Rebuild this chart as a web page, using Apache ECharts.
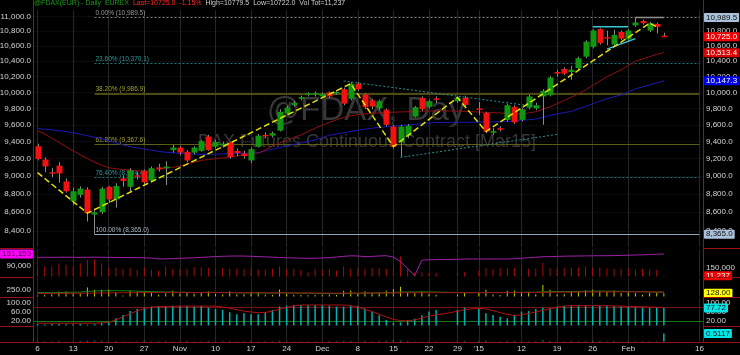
<!DOCTYPE html>
<html><head><meta charset="utf-8">
<script src="https://cdn.jsdelivr.net/npm/echarts@6/dist/echarts.min.js"></script>
<style>html,body{margin:0;padding:0;background:#000;}#c{width:740px;height:355px;}</style>
</head><body><div id="c"></div>
<script>
// ---------------- DATA ----------------
const dates = ['10-06','10-07','10-08','10-09','10-10','10-13','10-14','10-15','10-16','10-17','10-20','10-21','10-22','10-23','10-24','10-27','10-28','10-29','10-30','10-31',
'11-03','11-04','11-05','11-06','11-07','11-10','11-11','11-12','11-13','11-14','11-17','11-18','11-19','11-20','11-21','11-24','11-25','11-26','11-27','11-28',
'12-01','12-02','12-03','12-04','12-05','12-08','12-09','12-10','12-11','12-12','12-15','12-16','12-17','12-18','12-19','12-22','12-23','12-24','12-26','12-29','12-30','12-31',
'01-02','01-05','01-06','01-07','01-08','01-09','01-12','01-13','01-14','01-15','01-16','01-19','01-20','01-21','01-22','01-23','01-26','01-27','01-28','01-29','01-30',
'02-02','02-03','02-04','02-05','02-06','02-09','02-10','02-11','02-12','02-13','02-16'];
const tickLabels = {'10-06':'6','10-13':'13','10-20':'20','10-27':'27','11-03':'Nov','11-10':'10','11-17':'17','11-24':'24','12-01':'Dec','12-08':'8','12-15':'15','12-22':'22','12-29':'29','01-02':"'15",'01-12':'12','01-19':'19','01-26':'26','02-02':'Feb','02-16':'16'};

const open  = [9345,9190,9045,9120,8940,8720,8790,8850,8575,8600, 8880,8740,8975,8880,9010,9060,8950,9100,9090,9300, 9330,9280,9270,9290,9460,9340,9355,9390,9290,9260, 9180,9340,9480,9470,9530,9740,9840,9920,9970,9990, 9950,10000,9990,10040,9920,10110,9975,9900,9800,9785, 9580,9390,9470,9700,9930,9820,9925,null,null,9890, 9930,null,9800,9745,9505,9560,9660,9820,9660,9810, 9800,9950,9965,10260,10300,10260,10310,10460,10590,10830, 10720,10620,10790,10690,10880,10940,10810,10900,10740];
const high  = [9375,9215,9095,9160,8975,8870,8885,8875,8640,8880, 8890,8920,9010,9090,9050,9075,9110,9140,9170,9360, 9350,9300,9345,9420,9480,9420,9400,9400,9320,9290, 9330,9490,9510,9520,9790,9830,9890,9960,10000,10010, 10000,10010,10030,10060,10130,10130,9990,9920,9910,9800, 9600,9600,9610,9830,9950,9910,9950,null,null,9950, 9960,null,9880,9760,9560,9580,9860,9840,9810,9970, 9870,10040,10210,10290,10320,10340,10460,10680,10830,10840, 10810,10820,10810,10830,10989.5,10960,10930,10920,10779.5];
const low   = [9180,9045,8985,8925,8815,8680,8760,8500,8365,8580, 8700,8650,8880,8830,8960,8890,8930,9050,8900,9270, 9240,9160,9250,9280,9290,9320,9330,9200,9230,9200, 9150,9330,9440,9450,9520,9720,9820,9900,9950,9950, 9930,9930,9970,9840,9900,10020,9790,9790,9780,9580, 9320,9220,9440,9690,9770,9800,9870,null,null,9870, 9830,null,9720,9500,9480,9520,9640,9610,9640,9790, 9780,9600,9950,10200,10220,10160,10290,10440,10570,10620, 10610,10590,10680,10660,10860,10890,10790,10770,10722];
const close = [9195,9110,9030,9030,8830,8830,8860,8590,8600,8860, 8740,8890,8945,9065,9005,8930,9090,9080,9110,9330, 9270,9180,9330,9405,9300,9395,9375,9220,9265,9230, 9310,9470,9470,9500,9760,9810,9870,9940,9990,9992, 9980,9950,10005,9860,10110,10040,9815,9825,9890,9600, 9340,9580,9590,9815,9790,9890,9915,null,null,9935, 9845,null,9785,9520,9525,9540,9840,9630,9790,9950, 9840,10020,10190,10240,10240,10290,10440,10660,10810,10640, 10705,10750,10700,10810,10920,10910,10910,10860,10725];

const ma20 = [9530,9490,9440,9390,9340,9290,9245,9200,9160,9125, 9095,9085,9075,9070,9062,9055,9060,9075,9090,9100, 9115,9140,9160,9180,9190,9200,9208,9215,9230,9245, 9255,9265,9300,9345,9385,9415,9450,9480,9520,9560, 9595,9630,9660,9690,9710,9725,9733,9740,9745,9750, 9754,9757,9760,9763,9766,9768,9770,9770,9769,9767, 9764,9760,9756,9752,9748,9744,9740,9735,9730,9745, 9760,9790,9820,9860,9900,9940,9985,10030,10090,10145, 10200,10245,10290,10345,10400,10430,10460,10490,10513.4];
const ma50 = [9555,9548,9540,9530,9520,9505,9488,9470,9452,9435, 9410,9385,9360,9340,9325,9310,9297,9285,9275,9268, 9262,9257,9253,9250,9251,9253,9255,9258,9261,9264, 9267,9270,9290,9310,9330,9348,9366,9385,9402,9420, 9448,9475,9490,9505,9520,9535,9548,9560,9568,9576, 9584,9592,9600,9607,9614,9621,9628,9629,9630,9631, 9631,9632,9633,9635,9636,9638,9640,9647,9655,9662, 9670,9692,9715,9732,9748,9765,9795,9825,9858,9890, 9920,9945,9968,10005,10045,10070,10095,10120,10147.3];

const zigzagIdx = [0, 7, 44, 50, 59, 63, 86, 87];
const zigzagVal = [9040, 8590, 10110, 9340, 9935, 9520, 10910, 10860];

const fibStartDate = '10-16';
const fibPct = ['0.00%', '23.60%', '38.20%', '61.80%', '76.40%', '100.00%'];
const fibVal = [10989.5, 10370.1, 9986.9, 9367.6, 8984.4, 8365.0];

const upperWedgeIdx = [43, 70];  const upperWedgeVal = [10145, 9823];
const lowerWedgeIdx = [51, 73];  const lowerWedgeVal = [9215, 9485];
const flatTopIdx = [78, 83];     const flatTopVal = [10863, 10863];
const risingIdx = [80, 84];      const risingVal = [10560, 10700];
const highMarkIdx = [84, 88];    const highMarkVal = [10989.5, 10989.5];

const priceTicks = [8400,8600,8800,9000,9200,9400,9600,9800,10000,10200,10400,10600,10800,11000];
const priceBoxes = [10989.5, 10725.0, 10513.4, 10147.3, 8365.0];

const volume = [146000,176000,176000,235000,206000,176000,235000,294000,294000,235000, 159000,159000,136000,146000,118000,159000,118000,100000,176000,136000,
 136000,136000,164000,164000,153000,118000,146000,136000,136000,136000, 146000,118000,123000,136000,176000,136000,136000,118000,76000,136000,
 118000,136000,106000,176000,136000,146000,136000,146000,146000,136000, 160000,353000,136000,76000,76000,65000,65000,null,null,65000,
 76000,null,100000,146000,136000,146000,146000,153000,164000,136000, 136000,242000,146000,153000,146000,159000,159000,176000,159000,159000,
 146000,136000,136000,146000,118000,136000,118000,118000,11237];
const openInterest = [134000,134500,134000,134500,135000,134500,134000,134500,135000,134500, 134000,133500,133000,133000,132500,132000,130000,126000,126500,127500,
 129000,130500,132000,134000,136000,138000,139500,140500,141000,140500, 139500,138000,136500,135000,133500,132000,131000,130000,129000,129500,
 131000,133000,136000,139000,142000,141000,137500,139000,141000,142500, 135000,112000,76000,41000,120000,121500,122500,123000,123500,124500,
 125500,125700,125700,125700,125700,125700,125700,127000,129500,132000, 134500,137000,138000,139000,140000,140500,141000,141500,142000,142500,
 142500,143000,144000,145000,146000,147000,148500,150000,151150];

const rangeBars = [38,65,89,193,193,127,127,347,258,258, 258,166,38,219,193,193,166,65,127,219, 120,140,110,150,190,100,80,200,90,90,
 180,160,70,70,270,110,70,60,50,60, 70,80,60,220,230,110,200,130,130,220, 280,380,170,140,180,110,70,null,null,80,
 130,null,130,260,80,60,220,230,170,180, 90,440,260,90,100,190,170,240,260,220, 200,230,130,170,130,70,140,140,128];
const rangeFast = [150,150,145,150,160,165,170,195,210,220, 225,225,220,215,205,195,190,180,175,170, 165,160,155,155,160,155,150,150,145,140,
 140,140,135,135,140,140,135,130,125,120, 115,110,110,115,120,125,130,135,140,145, 155,170,175,175,180,175,170,165,160,155,
 150,150,150,155,155,150,155,160,160,165, 165,180,190,190,190,190,195,200,205,205, 205,200,200,195,190,185,175,165,160];
const rangeSlow = [115,115,115,118,120,122,125,128,132,136, 140,142,144,146,148,150,151,152,152,152, 152,152,151,150,150,150,149,148,147,146,
 145,144,143,142,141,140,139,138,137,136, 135,134,133,132,132,132,133,134,135,136, 138,140,142,144,146,147,148,148,148,148,
 148,148,148,148,148,149,150,151,152,153, 155,158,161,164,166,168,170,172,174,176, 178,179,180,181,181,181,180,180,179];

const stochK = [6,5,7,8,5,6,7,4,6,13, 17,32,47,64,73,79,84,84,84,88, 88,88,84,88,79,73,69,59,50,54, 50,50,59,69,84,88,91,91,91,91,
 91,88,84,84,88,88,75,60,45,25, 12,14,24,30,45,62,69,null,null,69, 79,null,73,54,47,39,32,47,62,64, 73,79,76,84,88,88,88,88,88,88,
 88,86,85,82,80,80,79,79,77.72];
const stochD = [10,10,10,10,10,10,10,10,10,11, 14,25,38,52,65,75,81,84,85,85, 86,86,86,86,86,86,82,77,70,64, 60,57,58,64,72,80,87,91,91,91,
 91,91,91,91,88,82,72,62,50,38, 27,22,20,25,33,42,47,52,57,63, 70,74,76,74,66,57,49,45,47,53, 60,67,74,80,86,88,88,88,88,88,
 88,87,86,85,84,83,82,81,80];
const stochLevels = [80, 20];

const oscBars = [0.03,0.02,0.02,0.03,0.02,0.02,0.03,0.05,0.05,0.04, 0.02,0.03,0.02,0.02,0.02,0.04,0.02,0.02,0.03,0.02,
 0.02,0.03,0.02,0.02,0.03,0.02,0.02,0.03,0.02,0.02, 0.03,0.02,0.02,0.02,0.04,0.02,0.02,0.02,0.02,0.02,
 0.02,0.03,0.02,0.04,0.03,0.02,0.03,0.02,0.03,0.04, 0.06,0.05,0.03,0.02,0.02,0.02,0.02,null,null,0.02,
 0.03,null,0.03,0.05,0.02,0.02,0.03,0.03,0.02,0.02, 0.02,0.07,0.03,0.02,0.02,0.03,0.02,0.03,0.04,0.03,
 0.02,0.03,0.02,0.03,0.02,0.02,0.02,0.02,0.5117];

// ---------------- CHART ----------------
const FONT = '"Liberation Sans", Arial, sans-serif';
const LBL = '#d4d4d4';
const RED = '#9b1010';
function fmt(v, d) { return Number(v).toLocaleString('en-US', {minimumFractionDigits: d, maximumFractionDigits: d}); }
function pairs(idx, val) { return idx.map((k, j) => [k, val[j]]); }

const gridDates = dates.filter(d => tickLabels[d] !== undefined);
const gridLineData = gridDates.map(d => ({xAxis: d}));
function box(v, text, bg, fg, pos) {
  return {yAxis: v, lineStyle: {color: 'rgba(0,0,0,0)', width: 0.01, opacity: 1},
    label: {show: true, position: pos || 'end', distance: 1, formatter: text, backgroundColor: bg, color: fg,
      padding: [1, 2, 0, 2], fontSize: 8, fontFamily: FONT, borderRadius: 1, opacity: 1}};
}
function vGrid(extra) {
  return {silent: true, symbol: 'none', z: 1, animation: false, label: {show: false},
    lineStyle: {color: '#262626', width: 1, type: 'solid'}, data: gridLineData.concat(extra || [])};
}

const grids = [
  {left: 34, right: 37, top: 10, height: 237},
  {left: 34, right: 37, top: 249, height: 27.5},
  {left: 34, right: 37, top: 278, height: 18.5},
  {left: 34, right: 37, top: 298, height: 27.5},
  {left: 34, right: 37, top: 326, height: 15.5}
].map(g => Object.assign(g, {containLabel: false, outerBoundsMode: 'none'}));

const xAxes = [0,1,2,3,4].map(g => ({
  type: 'category', gridIndex: g, data: dates, boundaryGap: true,
  axisLine: {show: false}, axisTick: {show: false}, splitLine: {show: false},
  axisLabel: g === 4 ? {show: true, interval: (i, v) => tickLabels[v] !== undefined, formatter: v => tickLabels[v] || '',
    color: LBL, fontSize: 8, fontFamily: FONT, margin: 3} : {show: false}
}));

function mainAxis(pos) {
  return {type: 'log', logBase: 10, gridIndex: 0, position: pos, min: 8232, max: 11093,
    axisLine: {show: false}, axisTick: {show: false, customValues: priceTicks},
    axisLabel: {show: true, customValues: priceTicks, formatter: v => fmt(v, 1), color: LBL, fontSize: 8, fontFamily: FONT, margin: 3},
    splitLine: {show: pos === 'left', lineStyle: {color: '#151515', type: 'dotted'}}};
}
function subAxis(g, pos, min, max, ticks, f) {
  return {type: 'value', gridIndex: g, position: pos, min: min, max: max,
    axisLine: {show: false}, axisTick: {show: false}, splitLine: {show: false},
    axisLabel: ticks ? {show: true, customValues: ticks, formatter: f, color: LBL, fontSize: 8, fontFamily: FONT, margin: 3} : {show: false}};
}
const yAxes = [
  mainAxis('left'), mainAxis('right'),
  subAxis(1, 'left', 36500, 176630, [90000], v => fmt(v, 0)),
  subAxis(1, 'right', 0, 485000, [150000], v => fmt(v, 0)),
  subAxis(2, 'left', 0, 712, [250], v => fmt(v, 2)),
  subAxis(2, 'right', 0, 712, null),
  subAxis(3, 'left', 0, 122, [100, 60, 20], v => fmt(v, 2)),
  subAxis(3, 'right', 0, 122, [100, 60, 20], v => fmt(v, 2)),
  subAxis(4, 'left', 0, 0.99, null),
  subAxis(4, 'right', 0, 0.99, null)
];

function renderCandle(params, api) {
  const i = api.value(0), o = api.value(1), c = api.value(2), lo = api.value(3), hi = api.value(4);
  if (isNaN(o) || isNaN(c)) return null;
  const pO = api.coord([i, o]), pC = api.coord([i, c]), pL = api.coord([i, lo]), pH = api.coord([i, hi]);
  const band = api.coord([1, 10000])[0] - api.coord([0, 10000])[0];
  const w = Math.max(2, Math.round(band * 0.82));
  const x = Math.round(pO[0]);
  const top = Math.min(pO[1], pC[1]);
  const h = Math.max(1.5, Math.abs(pO[1] - pC[1]));
  return {type: 'group', children: [
    {type: 'line', shape: {x1: x + 0.5, y1: pH[1], x2: x + 0.5, y2: pL[1]}, style: {stroke: '#8a8a8a', lineWidth: 1}},
    {type: 'rect', shape: {x: x + 0.5 - w / 2, y: top, width: w, height: h}, style: {fill: c >= o ? '#10960f' : '#f21212'}}
  ]};
}

const fibLine = [
  {color: '#7c7c7c', width: 1, type: [2, 2]},
  {color: '#1f7777', width: 1, type: [2, 2]},
  {color: '#4c4c12', width: 2, type: 'solid'},
  {color: '#5e5e14', width: 1, type: 'solid'},
  {color: '#1f7777', width: 1, type: [2, 2]},
  {color: '#8ea4b8', width: 1, type: 'solid'}
];
const fibLabelColor = ['#9a9a9a', '#2c9999', '#a0a030', '#a0a030', '#2c9999', '#a8b6c4'];
const fibData = fibVal.map((v, k) => [
  {coord: [fibStartDate, v], lineStyle: fibLine[k],
   label: {show: true, position: 'insideStartTop', distance: 1, formatter: fibPct[k] + ' (' + fmt(v, 1) + ')',
     color: fibLabelColor[k], fontSize: 6.5, fontFamily: FONT}},
  {coord: [dates[dates.length - 1], v]}
]);

const boxStyle = [['#a9c1d9', '#101010'], ['#f00000', '#ffffff'], ['#d80000', '#ffffff'], ['#0000e6', '#ffffff'], ['#a9c1d9', '#101010']];
const priceBoxData = priceBoxes.map((v, k) => box(v, fmt(v, 1), boxStyle[k][0], boxStyle[k][1]));

function seg(idx, val, color, width, type, z) {
  return {type: 'line', xAxisIndex: 0, yAxisIndex: 0, data: pairs(idx, val), symbol: 'none', silent: true, z: z || 5,
    lineStyle: {color: color, width: width, type: type}};
}
function labelSeries(xi, yi, items) {
  return {type: 'line', xAxisIndex: xi, yAxisIndex: yi, data: [], symbol: 'none', silent: true, z: 20,
    markLine: {silent: true, symbol: 'none', z: 20, animation: false, data: items}};
}

const series = [
  {type: 'line', name: 'MA50', xAxisIndex: 0, yAxisIndex: 0, data: ma50, symbol: 'none', z: 3, silent: true,
   lineStyle: {color: '#1a1ab8', width: 1}, markLine: vGrid()},
  {type: 'line', name: 'MA20', xAxisIndex: 0, yAxisIndex: 0, data: ma20, symbol: 'none', z: 3, silent: true,
   lineStyle: {color: '#901010', width: 1},
   markLine: {silent: true, symbol: 'none', z: 2, animation: false, data: fibData}},
  {type: 'custom', name: 'FDAX', xAxisIndex: 0, yAxisIndex: 0, z: 4, renderItem: renderCandle,
   encode: {x: 0, y: [1, 2, 3, 4]},
   data: open.map((o, i) => [i, o == null ? '-' : o, close[i] == null ? '-' : close[i], low[i] == null ? '-' : low[i], high[i] == null ? '-' : high[i]])},
  {type: 'line', name: 'ZigZag', xAxisIndex: 0, yAxisIndex: 0, data: pairs(zigzagIdx, zigzagVal), symbol: 'none', z: 6, silent: true,
   lineStyle: {color: '#e2e200', width: 1.5, type: [6, 3]}},
  seg(upperWedgeIdx, upperWedgeVal, '#2e8e8e', 1, [2, 2]),
  seg(lowerWedgeIdx, lowerWedgeVal, '#2e8e8e', 1, [2, 2]),
  seg(flatTopIdx, flatTopVal, '#3cc4d4', 1.5, 'solid'),
  seg(risingIdx, risingVal, '#3cc4d4', 1.5, 'solid'),
  seg(highMarkIdx, highMarkVal, '#8c8c8c', 1.5, 'solid'),

  {type: 'bar', name: 'Volume', xAxisIndex: 1, yAxisIndex: 3, data: volume, barWidth: 1, silent: true, z: 3,
   itemStyle: {color: '#a80d0d'}, markLine: vGrid()},
  {type: 'line', name: 'OI', xAxisIndex: 1, yAxisIndex: 2, data: openInterest, symbol: 'none', silent: true, z: 4,
   lineStyle: {color: '#a020a8', width: 1}},

  {type: 'bar', name: 'Range', xAxisIndex: 2, yAxisIndex: 4, data: rangeBars, barWidth: 1, silent: true, z: 3,
   itemStyle: {color: '#c8c800'}, markLine: vGrid()},
  {type: 'line', name: 'RangeFast', xAxisIndex: 2, yAxisIndex: 4, data: rangeFast, symbol: 'none', silent: true, z: 4,
   lineStyle: {color: '#168016', width: 1}},
  {type: 'line', name: 'RangeSlow', xAxisIndex: 2, yAxisIndex: 4, data: rangeSlow, symbol: 'none', silent: true, z: 4,
   lineStyle: {color: '#a01212', width: 1}},

  {type: 'bar', name: '%K', xAxisIndex: 3, yAxisIndex: 6, data: stochK, barWidth: 1.5, silent: true, z: 3,
   itemStyle: {color: '#00b2b2'}, markLine: vGrid()},
  {type: 'line', name: '%D', xAxisIndex: 3, yAxisIndex: 6, data: stochD, symbol: 'none', silent: true, z: 4,
   lineStyle: {color: '#b01212', width: 1},
   markLine: {silent: true, symbol: 'none', z: 2, animation: false, label: {show: false},
     data: [{yAxis: stochLevels[0], lineStyle: {color: '#7a1414', width: 1, type: 'solid'}},
            {yAxis: stochLevels[1], lineStyle: {color: '#167a16', width: 1, type: 'solid'}}]}},

  {type: 'bar', name: 'Osc', xAxisIndex: 4, yAxisIndex: 8, data: oscBars, barWidth: 1.5, silent: true, z: 3,
   itemStyle: {color: '#00b2b2'}, markLine: vGrid()},

  labelSeries(0, 0, priceBoxData),
  labelSeries(1, 3, [box(11237, fmt(11237, 0), '#f00000', '#ffffff')]),
  labelSeries(1, 2, [box(151150, fmt(151150, 0), '#ff00ff', '#3a003a', 'start')]),
  labelSeries(2, 4, [box(128, '128.00', '#ffff00', '#101010')]),
  labelSeries(3, 6, [box(77.72, '77.72', '#00e6e6', '#101010')]),
  labelSeries(4, 8, [box(0.5117, '0.5117', '#00e6e6', '#101010')])
];

const graphic = [
  {type: 'text', x: 366, y: 111, z: 0, silent: true,
   style: {text: '@FDAX, Day', fill: '#383838', fontSize: 33, fontFamily: FONT, align: 'center', verticalAlign: 'middle'}},
  {type: 'text', x: 367, y: 142, z: 0, silent: true,
   style: {text: 'DAX Futures Continuous Contract [Mar15]', fill: '#383838', fontSize: 18, fontFamily: FONT, align: 'center', verticalAlign: 'middle'}},
  {type: 'text', x: 34, y: 0, z: 100, silent: true,
   style: {text: '{g|@FDAX(EUR) - Daily  EUREX}  {r|Last=10725.0  -1.15%}  {w|High=10779.5  Low=10722.0  Vol Tot=11,237}',
     fontSize: 7, fontFamily: FONT, verticalAlign: 'top',
     rich: {g: {fill: '#1c9a1c', fontSize: 7, fontFamily: FONT}, r: {fill: '#ff2a2a', fontSize: 7, fontFamily: FONT}, w: {fill: '#cfcfcf', fontSize: 7, fontFamily: FONT}}}}
];
function hline(x1, x2, y) { return {type: 'line', z: 100, silent: true, shape: {x1: x1, y1: y, x2: x2, y2: y}, style: {stroke: RED, lineWidth: 1}}; }
function vline(x, y1, y2) { return {type: 'line', z: 100, silent: true, shape: {x1: x, y1: y1, x2: x, y2: y2}, style: {stroke: RED, lineWidth: 1}}; }
graphic.push(vline(33.5, 0, 342.5), vline(703.5, 0, 342.5), hline(0, 740, 342.5));
[248.5, 277.5, 297.5, 326.5].forEach(y => { graphic.push(hline(0, 34, y), hline(703, 740, y)); });

const chart = echarts.init(document.getElementById('c'), null, {renderer: 'canvas'});
chart.setOption({backgroundColor: '#000', animation: false, grid: grids, xAxis: xAxes, yAxis: yAxes, series: series, graphic: graphic});
</script></body></html>
